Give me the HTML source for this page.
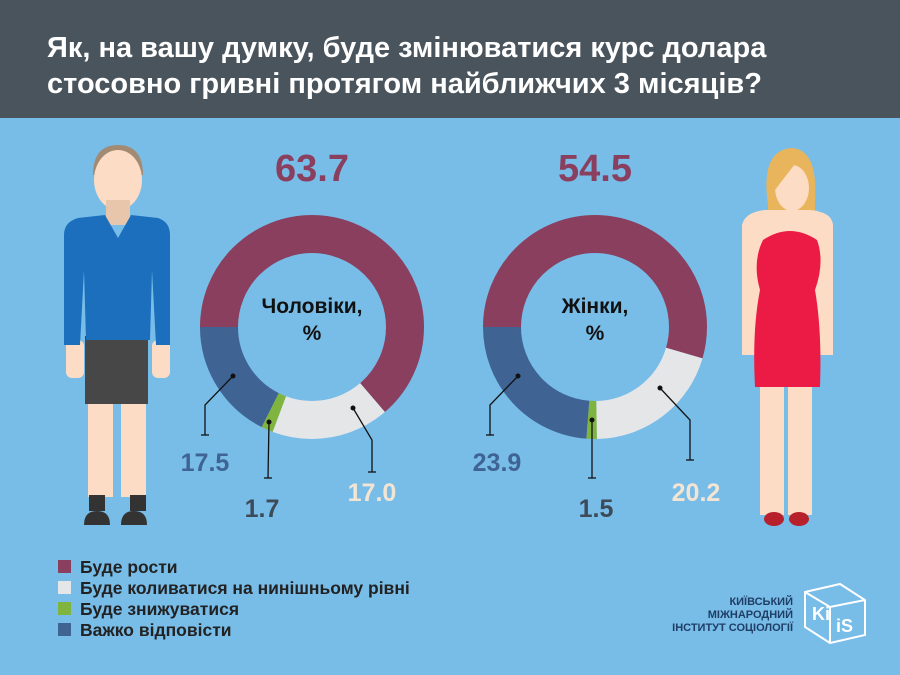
<!DOCTYPE html>
<html><head><meta charset="utf-8"><style>
body{margin:0;width:900px;height:675px;overflow:hidden;background:#78bce8;font-family:"Liberation Sans",sans-serif}
</style></head><body>
<svg width="900" height="675" xmlns="http://www.w3.org/2000/svg" style="position:absolute;left:0;top:0">
<rect width="900" height="675" fill="#78bce8"/>
<rect width="900" height="118" fill="#4a545c"/>
<text x="47" y="57" fill="#fff" font-size="29" font-weight="bold">Як, на вашу думку, буде змінюватися курс долара</text>
<text x="47" y="93" fill="#fff" font-size="29" font-weight="bold">стосовно гривні протягом найближчих 3 місяців?</text>

<!-- Donut men -->
<g transform="translate(312,327) rotate(180)" fill="none" stroke-width="38">
<circle r="93" stroke="#8b3f5e" stroke-dasharray="372.2 600" stroke-dashoffset="0"/>
<circle r="93" stroke="#e4e6e8" stroke-dasharray="99.3 600" stroke-dashoffset="-372.2"/>
<circle r="93" stroke="#7fb53f" stroke-dasharray="9.9 600" stroke-dashoffset="-471.5"/>
<circle r="93" stroke="#3f6494" stroke-dasharray="102.9 600" stroke-dashoffset="-481.4"/>
</g>
<text x="312" y="313" text-anchor="middle" font-size="21" font-weight="bold" fill="#111">Чоловіки,</text>
<text x="312" y="340" text-anchor="middle" font-size="21" font-weight="bold" fill="#111">%</text>
<text x="312" y="181" text-anchor="middle" font-size="38" font-weight="bold" fill="#8b3f5e">63.7</text>
<!-- Donut women -->
<g transform="translate(595,327) rotate(180)" fill="none" stroke-width="38">
<circle r="93" stroke="#8b3f5e" stroke-dasharray="318.5 600"/>
<circle r="93" stroke="#e4e6e8" stroke-dasharray="118 600" stroke-dashoffset="-318.5"/>
<circle r="93" stroke="#7fb53f" stroke-dasharray="8.8 600" stroke-dashoffset="-436.5"/>
<circle r="93" stroke="#3f6494" stroke-dasharray="139.1 600" stroke-dashoffset="-445.3"/>
</g>
<text x="595" y="313" text-anchor="middle" font-size="21" font-weight="bold" fill="#111">Жінки,</text>
<text x="595" y="340" text-anchor="middle" font-size="21" font-weight="bold" fill="#111">%</text>
<text x="595" y="181" text-anchor="middle" font-size="38" font-weight="bold" fill="#8b3f5e">54.5</text>

<!-- leaders -->
<g stroke="#111" stroke-width="1.3" fill="none">
<polyline points="233,376 205,405 205,435"/><line x1="201" y1="435" x2="209" y2="435"/>
<polyline points="269,422 268,478"/><line x1="264" y1="478" x2="272" y2="478"/>
<polyline points="353,408 372,440 372,472"/><line x1="368" y1="472" x2="376" y2="472"/>
<polyline points="518,376 490,405 490,435"/><line x1="486" y1="435" x2="494" y2="435"/>
<polyline points="592,420 592,478"/><line x1="588" y1="478" x2="596" y2="478"/>
<polyline points="660,388 690,420 690,460"/><line x1="686" y1="460" x2="694" y2="460"/>
</g>
<g fill="#111"><circle cx="233" cy="376" r="2.5"/><circle cx="269" cy="422" r="2.5"/><circle cx="353" cy="408" r="2.5"/><circle cx="518" cy="376" r="2.5"/><circle cx="592" cy="420" r="2.5"/><circle cx="660" cy="388" r="2.5"/></g>
<g font-size="25" font-weight="bold">
<text x="205" y="471" text-anchor="middle" fill="#3f6494">17.5</text>
<text x="262" y="517" text-anchor="middle" fill="#3d4a57">1.7</text>
<text x="372" y="501" text-anchor="middle" fill="#f3e5d3">17.0</text>
<text x="497" y="471" text-anchor="middle" fill="#3f6494">23.9</text>
<text x="596" y="517" text-anchor="middle" fill="#3d4a57">1.5</text>
<text x="696" y="501" text-anchor="middle" fill="#f3e5d3">20.2</text>
</g>

<!-- man -->
<g>
<path d="M93,175 Q93,145 118,145 Q143,145 143,175 Z" fill="#a38b73"/>
<ellipse cx="118" cy="180" rx="24" ry="30" fill="#fcdcc4"/>
<rect x="106" y="200" width="24" height="25" fill="#e8c6ac"/>
<rect x="88" y="400" width="25" height="97" fill="#fcdcc4"/>
<rect x="121" y="400" width="25" height="97" fill="#fcdcc4"/>
<rect x="66" y="340" width="18" height="38" rx="6" fill="#fcdcc4"/>
<rect x="152" y="340" width="18" height="38" rx="6" fill="#fcdcc4"/>
<rect x="85" y="336" width="63" height="68" fill="#474747"/>
<path d="M78,218 L105,215 L118,238 L131,215 L158,218 Q170,222 170,235 L170,345 L156,345 L152,270 L150,340 L86,340 L84,270 L80,345 L64,345 L64,235 Q64,222 78,218Z" fill="#1b6fbd"/>
<rect x="89" y="495" width="16" height="16" fill="#333"/>
<rect x="130" y="495" width="16" height="16" fill="#333"/>
<path d="M84,525 Q84,511 97,511 Q110,511 110,525Z" fill="#333"/>
<path d="M121,525 Q121,511 134,511 Q147,511 147,525Z" fill="#333"/>
</g>
<!-- woman -->
<g>
<path d="M768,205 Q760,150 792,148 Q818,150 815,200 L815,230 L768,230Z" fill="#e9b55c"/>
<path d="M742,225 Q745,212 765,210 L810,210 Q832,212 833,225 L833,355 L820,355 L755,355 L742,355Z" fill="#fcdcc4"/>
<ellipse cx="792" cy="188" rx="17" ry="23" fill="#fcdcc4"/>
<path d="M767,180 Q772,160 800,158 Q790,170 775,190Z" fill="#e9b55c"/>
<rect x="760" y="385" width="24" height="130" fill="#fcdcc4"/>
<rect x="788" y="385" width="24" height="130" fill="#fcdcc4"/>
<path d="M763,240 Q790,222 817,240 Q825,262 815,290 Q822,330 820,387 L755,387 Q752,330 760,290 Q752,262 763,240Z" fill="#ec1b45"/>
<ellipse cx="774" cy="519" rx="10" ry="7" fill="#b8212b"/>
<ellipse cx="799" cy="519" rx="10" ry="7" fill="#b8212b"/>
</g>

<!-- legend -->
<rect x="58" y="560" width="13" height="13" fill="#8b3f5e"/>
<rect x="58" y="581" width="13" height="13" fill="#e4e6e8"/>
<rect x="58" y="602" width="13" height="13" fill="#7fb53f"/>
<rect x="58" y="623" width="13" height="13" fill="#3f6494"/>
<g font-size="17.5" font-weight="bold" fill="#222">
<text x="80" y="573">Буде рости</text>
<text x="80" y="594">Буде коливатися на нинішньому рівні</text>
<text x="80" y="615">Буде знижуватися</text>
<text x="80" y="636">Важко відповісти</text>
</g>
<!-- logo -->
<g font-size="11" font-weight="bold" fill="#1f3e66" text-anchor="end">
<text x="793" y="605">КИЇВСЬКИЙ</text>
<text x="793" y="618">МІЖНАРОДНИЙ</text>
<text x="793" y="631">ІНСТИТУТ СОЦІОЛОГІЇ</text>
</g>
<g stroke="#fff" stroke-width="2" fill="none">
<polygon points="805,592 840,584 865,600 865,635 830,643 805,627"/>
<polyline points="805,592 830,607 865,600"/><line x1="830" y1="607" x2="830" y2="643"/>
</g>
<text x="812" y="620" font-size="18" font-weight="bold" fill="#fff">Ki</text>
<text x="836" y="632" font-size="18" font-weight="bold" fill="#fff">iS</text>
</svg>
</body></html>
